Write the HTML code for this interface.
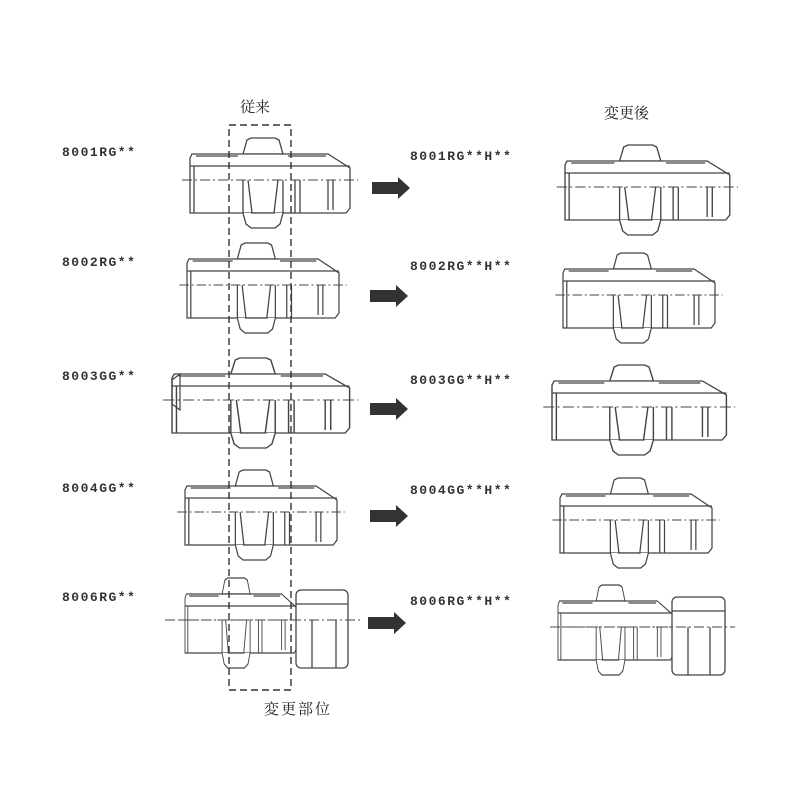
<!DOCTYPE html>
<html><head><meta charset="utf-8"><style>
html,body{margin:0;padding:0;background:#fff;}
svg{display:block}
.l{font-family:"Liberation Mono","Noto Sans CJK JP",monospace;font-size:13px;font-weight:bold;fill:#333;letter-spacing:1.5px}
.j{font-family:"Liberation Serif","Noto Serif CJK SC",serif;font-size:15px;fill:#222}
</style></head><body>
<svg width="800" height="789" viewBox="0 0 800 789" xmlns="http://www.w3.org/2000/svg">
<defs>
<g id="f" fill="none" stroke="#444" stroke-width="1.3">
  <polygon points="53,16 57,2 61,0 85,0 89,2 93,16" fill="#fff"/>
  <polygon points="2,16 53,16 93,16 138,16 160,30 160,70 156,75 0,75 0,20" fill="#fff"/>
  <line x1="0" y1="28" x2="160" y2="28"/>
  <line x1="6" y1="18" x2="48" y2="18"/>
  <line x1="98" y1="18" x2="136" y2="18"/>
  <polyline points="53,75 56,86 61,90 85,90 90,86 93,75" fill="#fff"/>
  <line x1="53" y1="42" x2="53" y2="75"/><line x1="93" y1="42" x2="93" y2="75"/>
  <line x1="58" y1="42" x2="62" y2="75"/><line x1="88" y1="42" x2="84" y2="75"/>
  <line x1="61" y1="75" x2="85" y2="75"/>
  <line x1="105" y1="42" x2="105" y2="75"/><line x1="110" y1="42" x2="110" y2="75"/>
  <line x1="138" y1="42" x2="138" y2="72"/><line x1="143" y1="42" x2="143" y2="72"/>
  <line x1="4" y1="28" x2="4" y2="75"/>
  <line x1="-8" y1="42" x2="168" y2="42" stroke-dasharray="10,3,2,3" stroke-width="1"/>
</g>
<polygon id="ar" points="0,-6 26,-6 26,-11 38,0 26,11 26,6 0,6" fill="#333"/>
</defs>
<use href="#f" transform="translate(190,138)"/>
<use href="#f" transform="translate(187,243) scale(0.95,1)"/>
<use href="#f" transform="translate(172,358) scale(1.11,1)"/>
<use href="#f" transform="translate(185,470) scale(0.95,1)"/>
<use href="#f" transform="translate(185,578) scale(0.7,1)"/>
<g fill="#fff" stroke="#444" stroke-width="1.3">
  <rect x="296" y="590" width="52" height="78" rx="5"/>
  <line x1="296" y1="604" x2="348" y2="604"/>
  <line x1="312" y1="620" x2="312" y2="668"/><line x1="336" y1="620" x2="336" y2="668"/>
  <line x1="165" y1="620" x2="360" y2="620" stroke-dasharray="10,3,2,3" stroke-width="1"/>
</g>
<polygon points="172,380 180,374 180,410 172,404" fill="none" stroke="#444" stroke-width="1.2"/>
<rect x="229" y="125" width="62" height="565" fill="none" stroke="#333" stroke-width="1.4" stroke-dasharray="7,4"/>
<use href="#f" transform="translate(565,145) scale(1.03,1)"/>
<use href="#f" transform="translate(563,253) scale(0.95,1)"/>
<use href="#f" transform="translate(552,365) scale(1.09,1)"/>
<use href="#f" transform="translate(560,478) scale(0.95,1)"/>
<use href="#f" transform="translate(558,585) scale(0.72,1)"/>
<g fill="#fff" stroke="#444" stroke-width="1.3">
  <rect x="672" y="597" width="53" height="78" rx="5"/>
  <line x1="672" y1="611" x2="725" y2="611"/>
  <line x1="688" y1="627" x2="688" y2="675"/><line x1="710" y1="627" x2="710" y2="675"/>
  <line x1="550" y1="627" x2="735" y2="627" stroke-dasharray="10,3,2,3" stroke-width="1"/>
</g>
<use href="#ar" transform="translate(372,188)"/>
<use href="#ar" transform="translate(370,296)"/>
<use href="#ar" transform="translate(370,409)"/>
<use href="#ar" transform="translate(370,516)"/>
<use href="#ar" transform="translate(368,623)"/>
<text class="l" x="62" y="156">8001RG**</text>
<text class="l" x="62" y="266">8002RG**</text>
<text class="l" x="62" y="380">8003GG**</text>
<text class="l" x="62" y="492">8004GG**</text>
<text class="l" x="62" y="601">8006RG**</text>
<text class="l" x="410" y="160">8001RG**H**</text>
<text class="l" x="410" y="270">8002RG**H**</text>
<text class="l" x="410" y="384">8003GG**H**</text>
<text class="l" x="410" y="494">8004GG**H**</text>
<text class="l" x="410" y="605">8006RG**H**</text>
<text class="j" x="240" y="112">従来</text>
<text class="j" x="604" y="118">変更後</text>
<text class="j" x="264" y="714" letter-spacing="2">変更部位</text>
</svg>
</body></html>
